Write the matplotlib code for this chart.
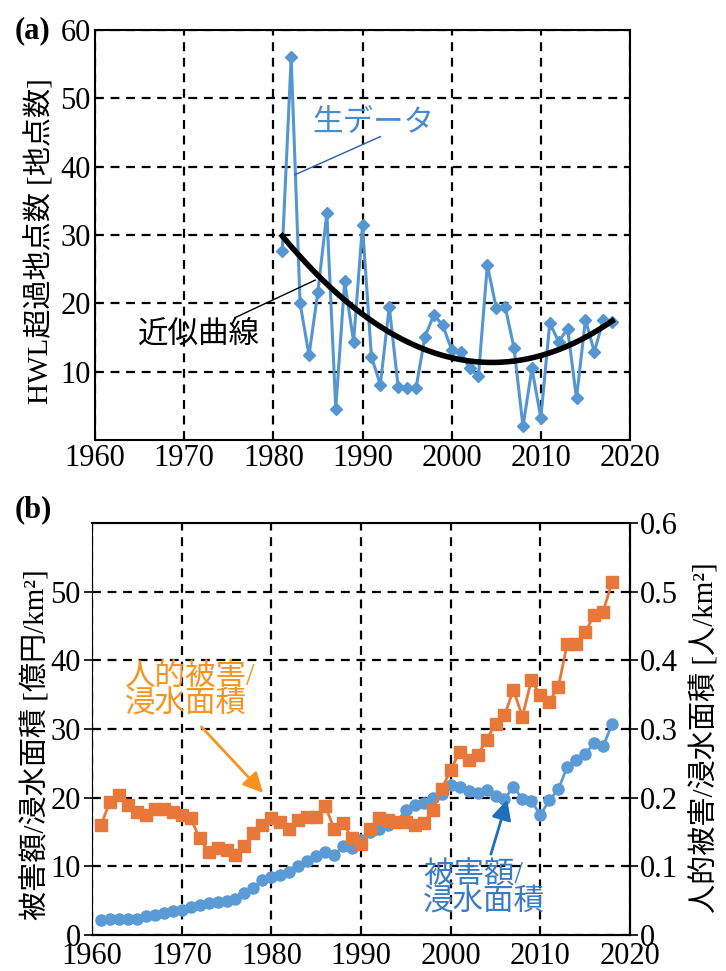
import numpy as np
import matplotlib.pyplot as plt

plt.rcParams['font.family'] = ['Liberation Serif', 'Noto Sans CJK JP']

# (a) number of points exceeding HWL
hwl_years = np.arange(1981, 2019)
hwl_counts = [27.6, 56.0, 20.0, 12.4, 21.7, 33.2, 4.6, 23.2, 14.4, 31.4,
              12.2, 8.1, 19.5, 7.8, 7.6, 7.6, 15.1, 18.3, 16.8, 13.2,
              12.9, 10.5, 9.3, 25.6, 19.3, 19.5, 13.4, 2.0, 10.5, 3.2,
              17.1, 14.4, 16.3, 6.1, 17.6, 12.9, 17.6, 17.3]

# (b) damage / inundated area (left axis) and casualties / inundated area (right axis)
dmg_years = np.arange(1961, 2019)
damage_per_area = [2.2, 2.4, 2.4, 2.4, 2.4, 2.7, 2.9, 3.2, 3.5, 3.6,
                   4.1, 4.4, 4.6, 4.8, 5.0, 5.3, 6.1, 6.8, 8.0, 8.5,
                   8.8, 9.2, 10.0, 10.8, 11.5, 12.1, 11.7, 12.9, 12.7, 13.9,
                   15.0, 15.5, 16.0, 16.5, 18.2, 18.9, 19.2, 19.9, 20.6, 21.8,
                   21.5, 21.0, 20.7, 21.1, 20.3, 19.8, 21.6, 19.8, 19.5, 17.5,
                   19.6, 21.2, 24.5, 25.5, 26.3, 28.0, 27.5, 30.7]
casualty_per_area = [0.160, 0.194, 0.204, 0.189, 0.179, 0.175, 0.184, 0.184, 0.179, 0.175,
                     0.170, 0.141, 0.121, 0.126, 0.124, 0.116, 0.129, 0.148, 0.160, 0.170,
                     0.165, 0.155, 0.167, 0.172, 0.172, 0.188, 0.155, 0.163, 0.141, 0.133,
                     0.155, 0.170, 0.167, 0.165, 0.165, 0.160, 0.163, 0.182, 0.213, 0.240,
                     0.267, 0.255, 0.262, 0.284, 0.308, 0.320, 0.357, 0.318, 0.371, 0.349,
                     0.340, 0.361, 0.424, 0.424, 0.441, 0.466, 0.471, 0.514]

year_ticks = [1960, 1970, 1980, 1990, 2000, 2010, 2020]
a_yticks = [10, 20, 30, 40, 50, 60]
b_left_ticks = [0, 10, 20, 30, 40, 50]
b_right_ticks = [0, 0.1, 0.2, 0.3, 0.4, 0.5, 0.6]
b_right_labels = ['0', '0.1', '0.2', '0.3', '0.4', '0.5', '0.6']

BLUE_A = '#5596d0'
BLUE_B = '#5b9bd5'
ORANGE = '#e8773a'
TICK_FS = 22
LABEL_FS = 21
NOTE_FS = 22


def dashed_grid(ax):
    ax.grid(True, color='black', linestyle=(0, (4, 3)), linewidth=1.6)
    ax.set_axisbelow(True)


fig = plt.figure(figsize=(7.26, 9.71), dpi=100)

# ---------------- panel (a) ----------------
ax_a = fig.add_axes([95 / 726, 1 - 440 / 971, 535 / 726, 410 / 971])
ax_a.plot(hwl_years, hwl_counts, color=BLUE_A, linewidth=2.2, marker='D',
          markersize=6, zorder=3)

# quadratic approximation curve
coef = np.polyfit(hwl_years, hwl_counts, 2)
fit_x = np.linspace(hwl_years[0], hwl_years[-1], 200)
ax_a.plot(fit_x, np.polyval(coef, fit_x), color='black', linewidth=4, zorder=4)

ax_a.set_xlim(1960, 2020)
ax_a.set_ylim(0, 60)
ax_a.set_xticks(year_ticks)
ax_a.set_yticks(a_yticks)
ax_a.tick_params(labelsize=TICK_FS, length=0, pad=3)
dashed_grid(ax_a)
for s in ax_a.spines.values():
    s.set_linewidth(1.5)

ax_a.text(1984.4, 46.5, '生データ', color='#4a8ad0', fontsize=NOTE_FS,
          ha='left', va='center')
ax_a.plot([1982.4, 1992.0], [38.8, 44.4], color='#2a5db0', linewidth=1, zorder=5)
ax_a.text(1964.8, 15.4, '近似曲線', color='black', fontsize=NOTE_FS,
          ha='left', va='center')
ax_a.plot([1975.7, 1984.7], [17.9, 23.4], color='black', linewidth=1, zorder=5)

fig.text(40 / 726, 1 - 241 / 971, 'HWL超過地点数 [地点数]', rotation=90,
         ha='center', va='center', fontsize=LABEL_FS)
fig.text(33 / 726, 1 - 31 / 971, '(a)', fontsize=22, fontweight='bold',
         ha='center', va='center')

# ---------------- panel (b) ----------------
ax_b = fig.add_axes([92 / 726, 1 - 935 / 971, 538 / 726, 412 / 971])
ax_b.plot(dmg_years, damage_per_area, color=BLUE_B, linewidth=2, marker='o',
          markersize=8, zorder=3)
ax_b.set_xlim(1960, 2020)
ax_b.set_ylim(0, 60)
ax_b.set_xticks(year_ticks)
ax_b.set_yticks(b_left_ticks)
ax_b.tick_params(labelsize=TICK_FS, direction='out', length=6, width=1.2, pad=2)
ax_b.tick_params(axis='x', length=0, pad=5)
dashed_grid(ax_b)
ax_b.spines['left'].set_color('#999999')
for k in ['top', 'bottom', 'right']:
    ax_b.spines[k].set_linewidth(1.5)

ax_b2 = ax_b.twinx()
ax_b2.plot(dmg_years, casualty_per_area, color=ORANGE, linewidth=2, marker='s',
           markersize=8, zorder=3)
ax_b2.set_ylim(0, 0.6)
ax_b2.set_yticks(b_right_ticks)
ax_b2.set_yticklabels(b_right_labels)
ax_b2.tick_params(labelsize=TICK_FS, direction='out', length=6, width=1.2, pad=1)

ax_b.text(1963.7, 39.7, '人的被害/\n浸水面積', color='#f7941e', fontsize=NOTE_FS,
          ha='left', va='top', linespacing=0.95, zorder=6)
ax_b.annotate('', xy=(1979.3, 20.4), xytext=(1972.0, 30.6),
              arrowprops=dict(arrowstyle='-|>', color='#f7941e', lw=2,
                              mutation_scale=30), zorder=6)
ax_b2.text(1996.9, 0.109, '被害額/\n浸水面積', color='#3a7cc4', fontsize=NOTE_FS,
           ha='left', va='top', linespacing=0.95, zorder=6)
ax_b2.annotate('', xy=(2006.4, 0.201), xytext=(2004.4, 0.114),
               arrowprops=dict(arrowstyle='-|>', color='#1f6fbd', lw=2,
                               mutation_scale=30), zorder=6)

fig.text(36 / 726, 1 - 745 / 971, '被害額/浸水面積 [億円/km²]', rotation=90,
         ha='center', va='center', fontsize=LABEL_FS)
fig.text(705 / 726, 1 - 738 / 971, '人的被害/浸水面積 [人/km²]', rotation=90,
         ha='center', va='center', fontsize=LABEL_FS)
fig.text(33 / 726, 1 - 510 / 971, '(b)', fontsize=22, fontweight='bold',
         ha='center', va='center')

fig.savefig('out.png', dpi=100)
